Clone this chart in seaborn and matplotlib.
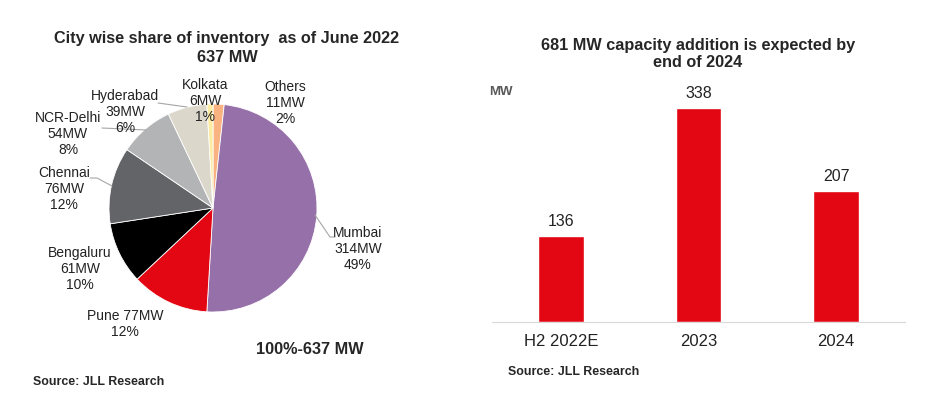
import matplotlib
matplotlib.use('Agg')
import matplotlib.pyplot as plt
import seaborn as sns
from matplotlib.lines import Line2D

# data
cities = ['Others', 'Mumbai', 'Pune', 'Bengaluru', 'Chennai', 'NCR-Delhi', 'Hyderabad', 'Kolkata']
city_mw = [11, 314, 77, 61, 76, 54, 39, 6]
city_pct = [2, 49, 12, 10, 12, 8, 6, 1]
city_colors = ['#F9B280', '#9670A8', '#E30613', '#000000', '#636467', '#B3B4B6', '#DCD7CB', '#FDEBA3']

periods = ['H2 2022E', '2023', '2024']
addition_mw = [136, 338, 207]

W, H = 935, 398

sns.set_style('white')
plt.rcParams['font.family'] = ['Liberation Sans', 'DejaVu Sans']

fig = plt.figure(figsize=(W / 100, H / 100), dpi=100)


def fx(x):
    return x / W


def fy(y):
    return 1 - y / H


# ---- pie ----
cx, cy, r = 213, 208, 104
ax_pie = fig.add_axes([fx(cx - r), fy(cy + r), 2 * r / W, 2 * r / H])
ax_pie.pie(city_mw, colors=city_colors, startangle=90, counterclock=False,
           wedgeprops=dict(edgecolor='white', linewidth=0.6))
ax_pie.set_xlim(-1, 1)
ax_pie.set_ylim(-1, 1)
ax_pie.set_aspect('auto')
ax_pie.axis('off')

# label centres in pixels
label_pos = {
    'Others': (285, 103), 'Mumbai': (358, 249), 'Pune': (125, 324),
    'Bengaluru': (80, 269), 'Chennai': (64, 189), 'NCR-Delhi': (68, 134),
    'Hyderabad': (125, 112), 'Kolkata': (205, 101),
}
for name, mw, pct in zip(cities, city_mw, city_pct):
    if name == 'Pune':
        txt = f'{name} {mw}MW\n{pct}%'
    else:
        txt = f'{name}\n{mw}MW\n{pct}%'
    px, py = label_pos[name]
    fig.text(fx(px), fy(py), txt, ha='center', va='center', fontsize=10,
             linespacing=1.15, color='#222222')

# leader lines (pixels)
leaders = [
    [(158, 103), (187, 107)],
    [(102, 128), (146, 130)],
    [(90, 178), (97, 178), (112, 186)],
    [(315, 215), (330, 237), (335, 237)],
]
for pts in leaders:
    xs = [fx(p[0]) for p in pts]
    ys = [fy(p[1]) for p in pts]
    fig.add_artist(Line2D(xs, ys, color='#A6A6A6', linewidth=0.8))

fig.text(fx(227), fy(48), 'City wise share of inventory  as of June 2022\n637 MW',
         ha='center', va='center', fontsize=11.7, fontweight='bold', linespacing=1.28)
fig.text(fx(310), fy(350), '100%-637 MW', ha='center', va='center',
         fontsize=11.7, fontweight='bold')
fig.text(fx(33), fy(382), 'Source: JLL Research', ha='left', va='center',
         fontsize=8.9, fontweight='bold')

# ---- bars ----
x0, x1, base, top = 492, 905, 322, 69
ax_bar = fig.add_axes([fx(x0), fy(base), (x1 - x0) / W, (base - top) / H])
sns.barplot(x=periods, y=addition_mw, color='#E30613', saturation=1,
            width=0.33, ax=ax_bar)
ax_bar.set_ylim(0, 400)
ax_bar.set_xlim(-0.5, 2.5)
for c in ax_bar.containers:
    ax_bar.bar_label(c, padding=5, fontsize=11.5, color='#222222')
sns.despine(ax=ax_bar, left=True)
ax_bar.spines['bottom'].set_color('#D9D9D9')
ax_bar.set_yticks([])
ax_bar.set_xlabel('')
ax_bar.set_ylabel('')
ax_bar.tick_params(axis='x', length=0, pad=9, labelsize=12, labelcolor='#222222')

fig.text(fx(698), fy(54), '681 MW capacity addition is expected by\nend of 2024',
         ha='center', va='center', fontsize=11.7, fontweight='bold', linespacing=1.18)
fig.text(fx(501), fy(92), 'MW', ha='center', va='center', fontsize=9.5,
         fontweight='bold', color='#595959')
fig.text(fx(508), fy(372), 'Source: JLL Research', ha='left', va='center',
         fontsize=8.9, fontweight='bold')

fig.savefig('out.png', dpi=100)
